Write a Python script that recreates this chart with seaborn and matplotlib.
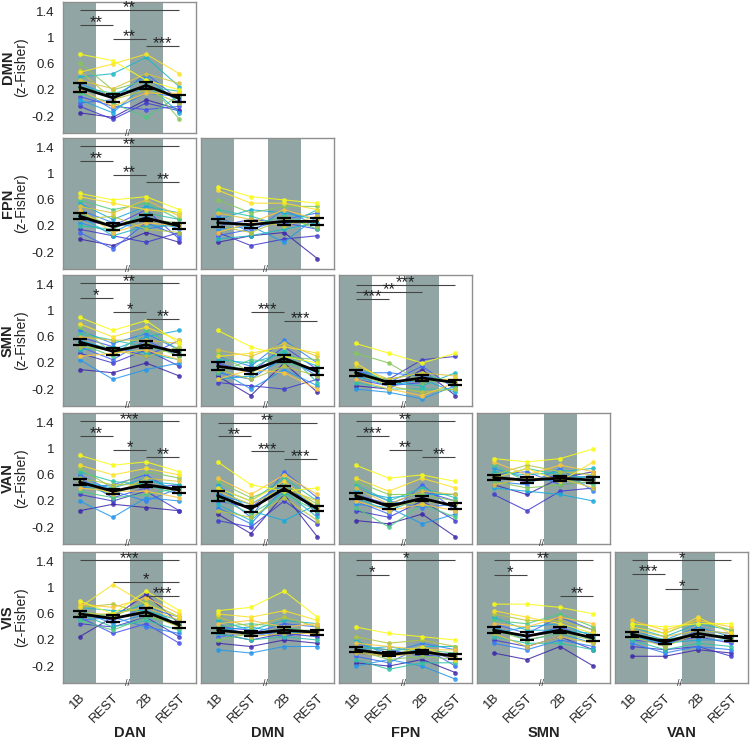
import numpy as np
import pandas as pd
import matplotlib
matplotlib.use("Agg")
import matplotlib.pyplot as plt
import seaborn as sns
from matplotlib.colors import LinearSegmentedColormap

sns.set_style("white")
plt.rcParams["font.family"] = ["Liberation Sans", "DejaVu Sans"]

conditions = ["1B", "REST", "2B", "REST"]
row_networks = ["DMN", "FPN", "SMN", "VAN", "VIS"]
col_networks = ["DAN", "DMN", "FPN", "SMN", "VAN"]
yticks = [-0.2, 0.2, 0.6, 1, 1.4]
ytick_labels = ["-0.2", "0.2", "0.6", "1", "1.4"]

# ---------------- data: subjects x [1B, REST, 2B, REST] ----------------
subj_dmn_dan = [[-0.15,-0.22,0.05,-0.10],[-0.05,-0.25,0.00,-0.12],[0.10,-0.05,-0.10,-0.05],[0.00,0.05,0.45,0.05],
                [0.20,-0.10,0.15,0.10],[0.30,0.10,0.40,0.00],[0.05,-0.15,0.30,-0.15],[0.40,0.45,0.70,0.25],
                [0.25,0.15,0.25,0.18],[0.15,0.00,-0.22,0.12],[0.62,0.20,0.35,-0.25],[0.50,0.05,0.20,0.00],
                [0.35,0.22,0.45,0.30],[0.20,-0.05,0.15,0.15],[0.47,0.60,0.75,0.45],[0.75,0.65,0.35,0.20]]
mean_dmn_dan = [0.24, 0.08, 0.27, 0.07]
sem_dmn_dan = [0.07, 0.06, 0.06, 0.05]
sig_dmn_dan = [(1, 4, "**", 1.43), (1, 2, "**", 1.20), (2, 3, "**", 0.98), (3, 4, "***", 0.87)]

subj_fpn_dan = [[0.00,-0.10,0.10,-0.05],[0.15,0.05,-0.05,0.10],[0.30,0.20,0.45,0.00],[0.10,-0.15,0.25,0.05],
                [0.45,0.25,0.15,0.25],[0.25,0.10,0.35,0.15],[0.55,0.30,0.50,0.40],[0.35,0.05,0.20,0.20],
                [0.20,0.15,0.40,0.30],[0.60,0.45,0.55,0.30],[0.40,0.20,0.30,0.25],[0.30,0.35,0.15,0.10],
                [0.50,0.40,0.60,0.35],[0.45,0.10,0.25,0.20],[0.65,0.55,0.45,0.40],[0.70,0.60,0.65,0.45]]
mean_fpn_dan = [0.35, 0.19, 0.32, 0.20]
sem_fpn_dan = [0.05, 0.05, 0.05, 0.04]
sig_fpn_dan = [(1, 4, "**", 1.42), (1, 2, "**", 1.20), (2, 3, "**", 0.98), (3, 4, "**", 0.87)]

subj_fpn_dmn = [[-0.05,0.05,0.10,-0.30],[0.10,-0.10,0.00,0.05],[0.20,0.30,0.25,0.15],[0.05,0.15,0.30,0.40],
                [0.35,0.10,0.45,0.20],[0.15,0.20,-0.05,0.35],[0.30,0.45,0.40,0.30],[0.00,0.05,0.15,0.25],
                [0.45,0.35,0.20,0.45],[0.25,0.20,0.35,0.15],[0.60,0.40,0.50,0.50],[0.20,0.10,0.30,0.20],
                [0.40,0.30,0.20,0.35],[0.10,0.25,0.45,0.30],[0.75,0.55,0.55,0.45],[0.80,0.65,0.60,0.55]]
mean_fpn_dmn = [0.25, 0.22, 0.27, 0.27]
sem_fpn_dmn = [0.06, 0.05, 0.05, 0.05]
sig_fpn_dmn = []

subj_smn_dan = [[0.10,0.05,0.20,0.00],[0.35,0.20,0.40,0.15],[0.60,0.45,0.30,0.55],[0.45,0.25,0.55,0.30],
                [0.70,0.50,0.65,0.40],[0.25,-0.05,0.10,0.20],[0.55,0.40,0.60,0.70],[0.40,0.45,0.35,0.25],
                [0.65,0.55,0.45,0.35],[0.50,0.30,0.70,0.40],[0.75,0.35,0.50,0.30],[0.45,0.40,0.30,0.45],
                [0.60,0.55,0.55,0.50],[0.30,0.35,0.40,0.25],[0.80,0.60,0.75,0.55],[0.90,0.70,0.85,0.50]]
mean_smn_dan = [0.52, 0.38, 0.48, 0.36]
sem_smn_dan = [0.05, 0.05, 0.05, 0.04]
sig_smn_dan = [(1, 4, "**", 1.42), (1, 2, "*", 1.20), (2, 3, "*", 0.98), (3, 4, "**", 0.87)]

subj_smn_dmn = [[0.00,-0.30,0.20,-0.25],[-0.10,-0.15,-0.20,-0.05],[0.20,0.05,0.45,0.10],[0.05,-0.05,0.30,0.00],
                [0.30,0.15,0.55,0.20],[0.10,-0.20,0.10,-0.15],[-0.05,0.00,0.25,0.05],[0.25,0.20,0.35,0.15],
                [0.15,0.10,0.40,-0.10],[0.05,0.25,0.20,0.10],[0.35,0.05,0.30,0.25],[0.10,-0.05,0.15,0.00],
                [0.40,0.30,0.50,0.30],[-0.05,0.10,0.05,-0.20],[0.30,0.35,0.45,0.35],[0.70,0.45,0.30,0.20]]
mean_smn_dmn = [0.15, 0.08, 0.27, 0.07]
sem_smn_dmn = [0.06, 0.05, 0.05, 0.05]
sig_smn_dmn = [(2, 3, "***", 0.98), (3, 4, "***", 0.85)]

subj_smn_fpn = [[-0.15,-0.20,0.10,-0.30],[0.00,-0.05,0.25,0.30],[-0.05,-0.15,-0.10,-0.05],[0.10,-0.10,0.15,-0.20],
                [0.05,0.05,0.00,-0.10],[-0.20,-0.25,-0.35,-0.15],[0.00,-0.15,-0.05,-0.25],[0.15,-0.10,-0.15,0.05],
                [-0.10,-0.20,-0.20,-0.20],[0.05,-0.05,0.05,-0.15],[0.35,0.20,-0.10,-0.05],[0.05,-0.15,-0.25,-0.20],
                [0.15,-0.05,0.05,0.00],[-0.05,-0.20,-0.30,-0.10],[0.20,-0.10,-0.05,-0.05],[0.50,0.35,0.20,0.35]]
mean_smn_fpn = [0.05, -0.10, -0.03, -0.10]
sem_smn_fpn = [0.05, 0.03, 0.04, 0.04]
sig_smn_fpn = [(1, 4, "***", 1.40), (1, 3, "**", 1.29), (1, 2, "***", 1.18)]

subj_van_dan = [[0.05,0.15,0.10,0.05],[0.30,0.20,0.35,0.05],[0.55,0.25,0.40,0.45],[0.40,0.45,0.60,0.30],
                [0.60,0.35,0.20,0.40],[0.20,-0.05,0.25,0.20],[0.50,0.40,0.55,0.35],[0.45,0.30,0.50,0.45],
                [0.65,0.50,0.45,0.30],[0.35,0.25,0.30,0.40],[0.70,0.40,0.65,0.55],[0.55,0.45,0.45,0.35],
                [0.50,0.30,0.55,0.50],[0.40,0.35,0.35,0.25],[0.75,0.60,0.70,0.60],[0.90,0.75,0.80,0.65]]
mean_van_dan = [0.49, 0.35, 0.45, 0.37]
sem_van_dan = [0.04, 0.04, 0.04, 0.04]
sig_van_dan = [(1, 4, "***", 1.42), (1, 2, "**", 1.20), (2, 3, "*", 0.98), (3, 4, "**", 0.87)]

subj_van_dmn = [[0.00,-0.30,0.30,-0.35],[-0.10,-0.20,0.20,-0.15],[0.20,0.10,0.50,0.00],[0.35,-0.05,0.65,0.25],
                [0.10,-0.15,0.40,0.05],[0.30,0.15,0.45,0.10],[0.45,0.05,-0.10,0.15],[0.15,-0.10,0.35,-0.05],
                [0.40,0.20,0.55,0.20],[0.25,0.00,0.30,0.05],[0.50,0.25,0.45,0.15],[0.05,-0.05,0.25,-0.10],
                [0.35,0.15,0.40,0.20],[0.55,0.30,0.60,0.30],[0.40,0.20,0.50,0.10],[0.80,0.45,0.35,0.40]]
mean_van_dmn = [0.28, 0.08, 0.39, 0.08]
sem_van_dmn = [0.08, 0.05, 0.04, 0.04]
sig_van_dmn = [(1, 4, "**", 1.40), (1, 2, "**", 1.19), (2, 3, "***", 0.96), (3, 4, "***", 0.85)]

subj_van_fpn = [[-0.10,-0.15,0.00,-0.35],[0.05,-0.05,0.20,-0.10],[0.30,0.15,0.35,0.20],[0.20,0.00,0.45,0.05],
                [0.40,0.20,0.10,0.15],[0.15,0.10,-0.15,0.00],[0.35,0.25,0.30,0.30],[0.25,0.05,0.25,0.10],
                [0.45,0.20,0.40,0.25],[0.10,-0.20,0.15,-0.05],[0.50,0.30,0.30,0.20],[0.30,0.10,0.20,0.15],
                [0.40,0.15,0.35,0.30],[0.20,0.05,0.15,0.05],[0.55,0.35,0.55,0.40],[0.75,0.55,0.60,0.50]]
mean_van_fpn = [0.28, 0.12, 0.24, 0.12]
sem_van_fpn = [0.05, 0.04, 0.04, 0.05]
sig_van_fpn = [(1, 4, "**", 1.42), (1, 2, "***", 1.20), (2, 3, "**", 0.98), (3, 4, "**", 0.87)]

subj_van_smn = [[0.45,0.30,0.55,0.65],[0.30,0.05,0.35,0.40],[0.55,0.50,0.60,0.55],[0.60,0.65,0.45,0.50],
                [0.50,0.45,0.70,0.35],[0.70,0.55,0.50,0.60],[0.40,0.35,0.30,0.20],[0.65,0.60,0.65,0.70],
                [0.55,0.70,0.60,0.55],[0.75,0.50,0.55,0.45],[0.50,0.40,0.45,0.50],[0.60,0.75,0.65,0.60],
                [0.45,0.55,0.55,0.40],[0.80,0.60,0.75,0.65],[0.55,0.70,0.50,0.80],[0.85,0.80,0.85,1.00]]
mean_van_smn = [0.56, 0.52, 0.55, 0.52]
sem_van_smn = [0.04, 0.05, 0.04, 0.05]
sig_van_smn = []

subj_vis_dan = [[0.25,0.55,0.90,0.45],[0.45,0.40,0.55,0.25],[0.55,0.30,0.45,0.15],[0.60,0.50,0.70,0.55],
                [0.50,0.55,0.40,0.30],[0.65,0.45,0.60,0.45],[0.55,0.60,0.75,0.40],[0.70,0.65,0.65,0.50],
                [0.60,0.40,0.50,0.35],[0.50,0.35,0.55,0.45],[0.65,0.55,0.80,0.55],[0.70,0.75,0.60,0.40],
                [0.60,0.60,0.70,0.50],[0.75,0.70,0.85,0.60],[0.70,1.05,0.75,0.55],[0.80,0.60,0.95,0.65]]
mean_vis_dan = [0.60, 0.53, 0.63, 0.43]
sem_vis_dan = [0.04, 0.05, 0.06, 0.04]
sig_vis_dan = [(1, 4, "***", 1.42), (2, 4, "*", 1.09), (3, 4, "***", 0.87)]

subj_vis_dmn = [[0.15,0.10,0.20,0.15],[0.30,0.20,0.30,0.25],[0.40,0.35,0.25,0.35],[0.25,0.30,0.45,0.40],
                [0.45,0.25,0.35,0.30],[0.05,0.00,0.10,0.10],[0.35,0.40,0.30,0.35],[0.50,0.35,0.50,0.45],
                [0.30,0.20,0.25,0.20],[0.40,0.45,0.40,0.30],[0.20,0.30,0.35,0.35],[0.55,0.40,0.55,0.40],
                [0.35,0.25,0.30,0.30],[0.45,0.50,0.40,0.45],[0.60,0.55,0.65,0.50],[0.65,0.70,0.95,0.55]]
mean_vis_dmn = [0.35, 0.30, 0.35, 0.32]
sem_vis_dmn = [0.04, 0.04, 0.05, 0.04]
sig_vis_dmn = []

subj_vis_fpn = [[-0.15,-0.20,-0.10,-0.30],[0.00,-0.05,0.05,-0.10],[0.10,0.05,-0.05,0.00],[-0.05,-0.15,0.10,-0.20],
                [0.15,0.00,0.15,0.05],[-0.20,-0.10,-0.20,-0.40],[0.05,0.10,0.00,-0.05],[0.20,-0.05,0.10,0.10],
                [-0.10,-0.25,-0.15,-0.15],[0.10,0.05,0.05,0.00],[0.05,-0.10,-0.05,-0.10],[0.25,0.15,0.20,0.10],
                [0.00,-0.05,0.00,-0.05],[0.15,0.10,0.05,0.05],[0.05,-0.05,0.10,-0.10],[0.40,0.30,0.25,0.20]]
mean_vis_fpn = [0.05, -0.02, 0.02, -0.05]
sem_vis_fpn = [0.04, 0.03, 0.03, 0.04]
sig_vis_fpn = [(1, 4, "*", 1.42), (1, 2, "*", 1.20)]

subj_vis_smn = [[0.00,-0.10,0.10,-0.20],[0.20,0.10,0.25,0.05],[0.35,0.25,0.40,0.20],[0.45,0.30,0.55,0.35],
                [0.15,0.05,0.20,0.10],[0.40,0.20,0.30,0.15],[0.30,0.40,0.45,0.25],[0.55,0.35,0.35,0.30],
                [0.25,0.15,0.15,0.05],[0.50,0.45,0.60,0.40],[0.35,0.20,0.30,0.20],[0.60,0.50,0.50,0.35],
                [0.30,0.10,0.25,0.15],[0.45,0.40,0.55,0.45],[0.65,0.55,0.45,0.30],[0.75,0.75,0.70,0.60]]
mean_vis_smn = [0.35, 0.26, 0.35, 0.23]
sem_vis_smn = [0.05, 0.06, 0.05, 0.05]
sig_vis_smn = [(1, 4, "**", 1.42), (1, 2, "*", 1.20), (3, 4, "**", 0.87)]

subj_vis_van = [[-0.05,-0.05,0.05,0.00],[0.10,0.05,0.10,-0.05],[0.20,0.15,0.25,0.15],[0.30,0.10,0.35,0.30],
                [0.15,0.00,0.10,0.05],[0.35,0.20,0.40,0.25],[0.25,0.15,0.20,0.20],[0.40,0.25,0.45,0.35],
                [0.20,0.05,0.15,0.10],[0.30,0.20,0.30,0.25],[0.45,0.30,0.50,0.35],[0.25,0.10,0.30,0.20],
                [0.35,0.25,0.35,0.30],[0.50,0.35,0.50,0.40],[0.40,0.30,0.55,0.30],[0.45,0.40,0.45,0.45]]
mean_vis_van = [0.29, 0.17, 0.30, 0.22]
sem_vis_van = [0.04, 0.03, 0.05, 0.04]
sig_vis_van = [(1, 4, "*", 1.42), (1, 2, "***", 1.21), (2, 3, "*", 0.98)]

panels = {
    (0, 0): (subj_dmn_dan, mean_dmn_dan, sem_dmn_dan, sig_dmn_dan),
    (1, 0): (subj_fpn_dan, mean_fpn_dan, sem_fpn_dan, sig_fpn_dan),
    (1, 1): (subj_fpn_dmn, mean_fpn_dmn, sem_fpn_dmn, sig_fpn_dmn),
    (2, 0): (subj_smn_dan, mean_smn_dan, sem_smn_dan, sig_smn_dan),
    (2, 1): (subj_smn_dmn, mean_smn_dmn, sem_smn_dmn, sig_smn_dmn),
    (2, 2): (subj_smn_fpn, mean_smn_fpn, sem_smn_fpn, sig_smn_fpn),
    (3, 0): (subj_van_dan, mean_van_dan, sem_van_dan, sig_van_dan),
    (3, 1): (subj_van_dmn, mean_van_dmn, sem_van_dmn, sig_van_dmn),
    (3, 2): (subj_van_fpn, mean_van_fpn, sem_van_fpn, sig_van_fpn),
    (3, 3): (subj_van_smn, mean_van_smn, sem_van_smn, sig_van_smn),
    (4, 0): (subj_vis_dan, mean_vis_dan, sem_vis_dan, sig_vis_dan),
    (4, 1): (subj_vis_dmn, mean_vis_dmn, sem_vis_dmn, sig_vis_dmn),
    (4, 2): (subj_vis_fpn, mean_vis_fpn, sem_vis_fpn, sig_vis_fpn),
    (4, 3): (subj_vis_smn, mean_vis_smn, sem_vis_smn, sig_vis_smn),
    (4, 4): (subj_vis_van, mean_vis_van, sem_vis_van, sig_vis_van),
}

# ---------------- style ----------------
parula = LinearSegmentedColormap.from_list("parula", [
    (0.2422, 0.1504, 0.6603), (0.2810, 0.3228, 0.9579), (0.1786, 0.5289, 0.9682),
    (0.0689, 0.6948, 0.8394), (0.2161, 0.7843, 0.5923), (0.6720, 0.7793, 0.2227),
    (0.9970, 0.7659, 0.2199), (0.9769, 0.9839, 0.0805)])
band_color = "#91a6a4"
spine_color = "#8f8f8f"

W, H = 750, 741
fig = plt.figure(figsize=(W / 100, H / 100), dpi=100)
col_left = [63, 201, 339, 477, 615]
row_top = [2, 138, 275, 413, 552]
pw, ph = 133, 131
YLO, YHI = -0.46, 1.55

for (r, c), (subj, mean, sem, sig) in panels.items():
    ax = fig.add_axes([col_left[c] / W, 1 - (row_top[r] + ph) / H, pw / W, ph / H])
    ax.axvspan(0.5, 1.5, color=band_color, lw=0, zorder=0)
    ax.axvspan(2.5, 3.5, color=band_color, lw=0, zorder=0)

    n = len(subj)
    df = pd.DataFrame(subj, columns=[1, 2, 3, 4])
    df["subj"] = np.arange(n)
    long = df.melt(id_vars="subj", var_name="x", value_name="v")
    long["x"] = long["x"].astype(float)
    pal = {i: parula(i / (n - 1)) for i in range(n)}
    sns.lineplot(data=long, x="x", y="v", hue="subj", palette=pal, units="subj",
                 estimator=None, marker="o", markersize=3.4, markeredgewidth=0,
                 linewidth=0.8, alpha=0.85, legend=False, ax=ax, zorder=2)

    ax.errorbar([1, 2, 3, 4], mean, yerr=sem, color="black", lw=2.0, elinewidth=1.6,
                capsize=5, capthick=1.6, zorder=5)

    for x1, x2, s, y in sig:
        ax.plot([x1, x2], [y, y], color="#444444", lw=0.8, zorder=6, solid_capstyle="butt")
        ax.text((x1 + x2) / 2, y - 0.035, s, ha="center", va="baseline", fontsize=12,
                color="#222222", zorder=7)

    ax.text(2.45, YLO, "//", ha="center", va="center", fontsize=6.5, color="#333333",
            clip_on=False, zorder=8)

    ax.set_xlim(0.5, 4.5)
    ax.set_ylim(YLO, YHI)
    ax.set_xlabel("")
    ax.set_ylabel("")
    ax.set_xticks([1, 2, 3, 4])
    ax.set_yticks(yticks)
    ax.tick_params(length=0, pad=6)
    if c == 0:
        ax.set_yticklabels(ytick_labels, fontsize=9.5, color="#222222")
    else:
        ax.set_yticklabels([])
    if r == 4:
        ax.set_xticklabels(conditions, rotation=45, ha="right", rotation_mode="anchor",
                           fontsize=9.5, color="#222222")
    else:
        ax.set_xticklabels([])
    for sp in ax.spines.values():
        sp.set_color(spine_color)
        sp.set_linewidth(1.0)
        sp.set_visible(True)

# row labels
for r, name in enumerate(row_networks):
    yc = 1 - (row_top[r] + ph / 2) / H
    fig.text(8 / W, yc, name, rotation=90, ha="center", va="center",
             fontsize=10.5, fontweight="bold", color="#222222")
    fig.text(21 / W, yc, "(z-Fisher)", rotation=90, ha="center", va="center",
             fontsize=10, color="#222222")

# column labels
for c, name in enumerate(col_networks):
    fig.text((col_left[c] + pw / 2) / W, 1 - 733 / H, name, ha="center", va="center",
             fontsize=10.5, fontweight="bold", color="#222222")

fig.savefig("out.png", dpi=100)
